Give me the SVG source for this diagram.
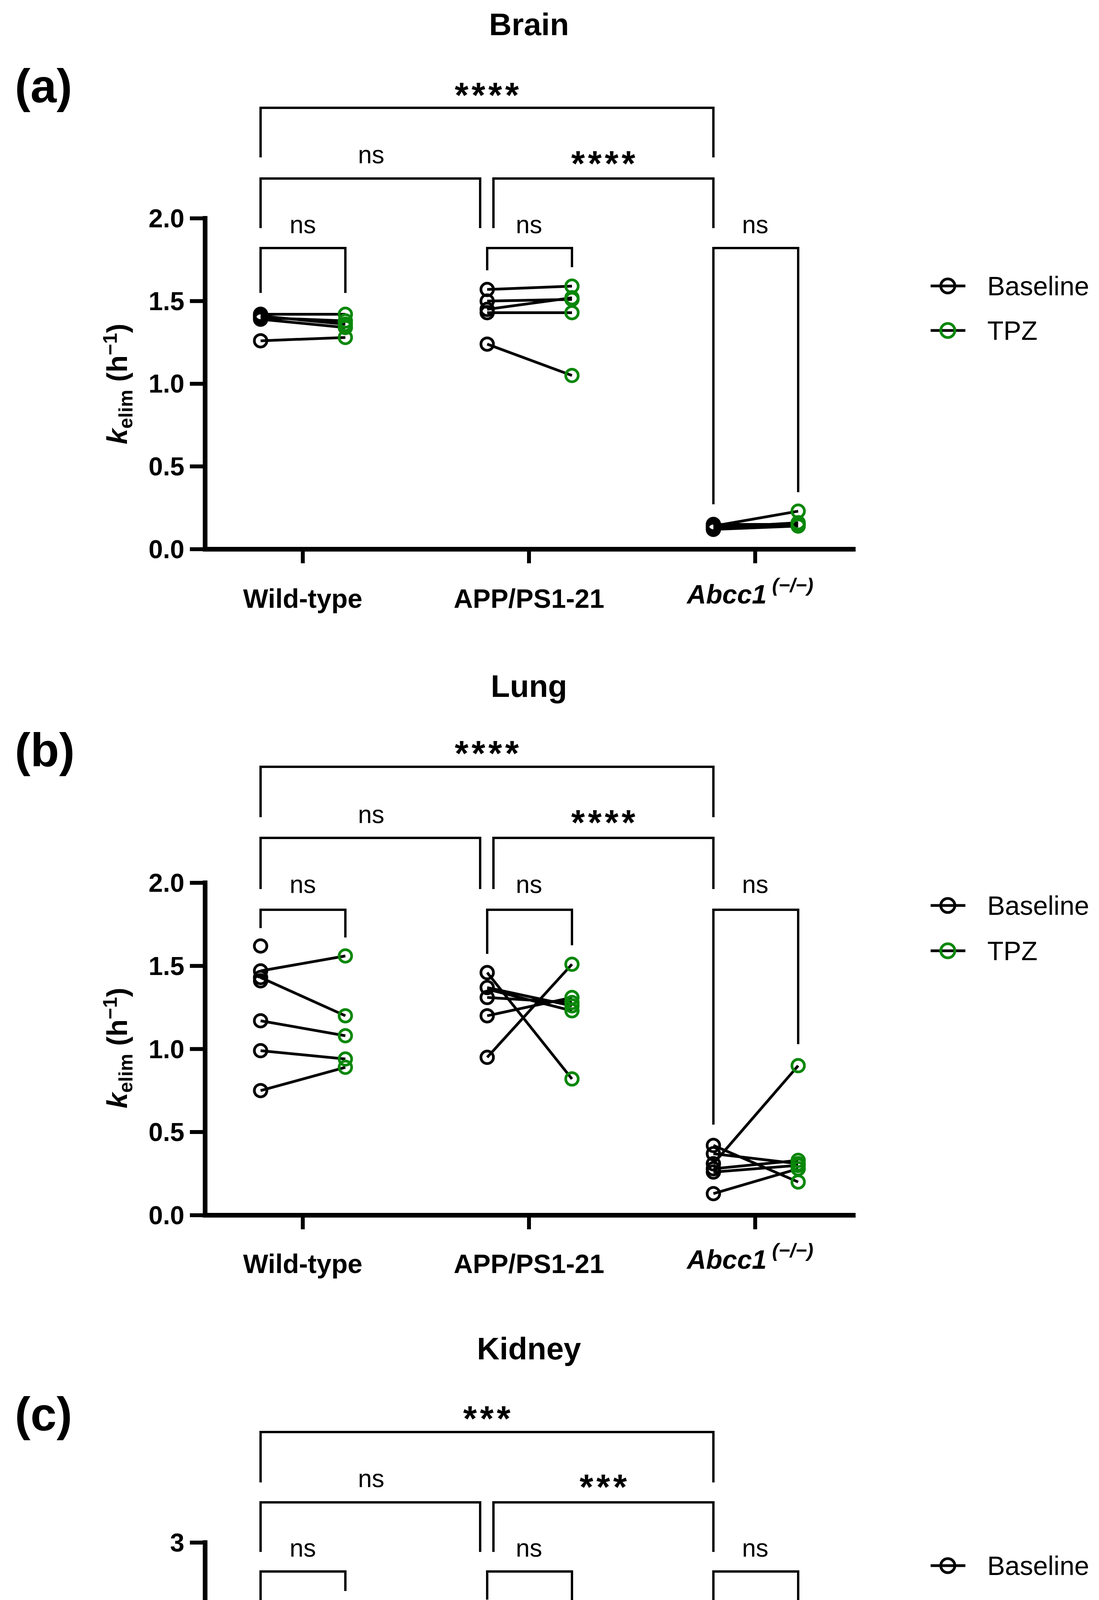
<svg xmlns="http://www.w3.org/2000/svg" width="2813" height="4996" viewBox="0 0 2813 4996">
<style>
text{font-family:"Liberation Sans",Arial,sans-serif;fill:#000}
.b{font-weight:bold}
.tl{font-size:66px;font-weight:bold;text-anchor:end}
.cat{font-size:68px;font-weight:bold;text-anchor:middle}
.ttl{font-size:80px;font-weight:bold;text-anchor:middle}
.pl{font-size:120px;font-weight:bold}
.ns{font-size:64px;text-anchor:middle}
.st{font-size:90px;font-weight:bold;text-anchor:middle;letter-spacing:8px}
.lg{font-size:68px}
.ax{stroke:#000;stroke-width:12;fill:none}
.tk{stroke:#000;stroke-width:10}
.br{stroke:#000;stroke-width:6;fill:none}
.dl{stroke:#000;stroke-width:7}
.cb{fill:none;stroke:#000;stroke-width:7}
.cg{fill:none;stroke:#0a870a;stroke-width:7}
</style>
<rect width="2813" height="4996" fill="#fff"/>

<!-- Panel a -->
<g id="panel-a">
<text class="pl" x="38" y="262">(a)</text>
<text class="ttl" x="1354" y="90">Brain</text>
<path class="ax" d="M525 553V1406H2190"/>
<path class="tk" d="M486 559H525M486 770.75H525M486 982.5H525M486 1194H525M486 1406H525M775 1406V1442M1354 1406V1442M1933 1406V1442"/>
<text class="tl" x="472" y="582">2.0</text><text class="tl" x="472" y="794">1.5</text><text class="tl" x="472" y="1005">1.0</text><text class="tl" x="472" y="1217">0.5</text><text class="tl" x="472" y="1429">0.0</text>
<text class="b" font-size="72" text-anchor="middle" transform="translate(325,983) rotate(-90)"><tspan font-style="italic">k</tspan><tspan font-size="50" dy="14">elim</tspan><tspan dy="-14"> (h</tspan><tspan font-size="50" dy="-26">−1</tspan><tspan dy="26">)</tspan></text>
<text class="cat" x="775" y="1556">Wild-type</text><text class="cat" x="1354" y="1556">APP/PS1-21</text>
<text class="cat" x="1920" y="1545" font-style="italic">Abcc1<tspan font-size="50" dy="-30"> (−/−)</tspan></text>
<path class="br" d="M667 403V276H1826V403M667 584V457H1229V584M1263 584V457H1826V584M667 750V635H884V750M1247 692V635H1464V684M1826 1291V635H2043V1260"/>
<text class="st" x="1250" y="275">****</text><text class="ns" x="950" y="418">ns</text><text class="st" x="1548" y="450">****</text>
<text class="ns" x="775" y="597">ns</text><text class="ns" x="1354" y="597">ns</text><text class="ns" x="1933" y="597">ns</text>
<path class="dl" d="M667 804.6L884 804.6M667 813.1L884 821.6M667 817.3L884 838.5M667 872.4L884 863.9M667 808.9L884 830M1247 741.1L1464 732.6M1247 791.9L1464 762.3M1247 770.8L1464 766.5M1247 800.4L1464 800.4M1247 880.9L1464 961.3M1826 1346.7L2043 1308.6M1826 1350.9L2043 1338.2M1826 1355.2L2043 1346.7M1826 1342.5L2043 1342.5"/>
<g class="cb"><circle cx="667" cy="804.6" r="16"/><circle cx="667" cy="813.1" r="16"/><circle cx="667" cy="817.3" r="16"/><circle cx="667" cy="872.4" r="16"/><circle cx="667" cy="808.9" r="16"/><circle cx="1247" cy="741.1" r="16"/><circle cx="1247" cy="791.9" r="16"/><circle cx="1247" cy="770.8" r="16"/><circle cx="1247" cy="800.4" r="16"/><circle cx="1247" cy="880.9" r="16"/><circle cx="1826" cy="1346.7" r="16"/><circle cx="1826" cy="1350.9" r="16"/><circle cx="1826" cy="1355.2" r="16"/><circle cx="1826" cy="1342.5" r="16"/></g>
<g class="cg"><circle cx="884" cy="804.6" r="16"/><circle cx="884" cy="821.6" r="16"/><circle cx="884" cy="838.5" r="16"/><circle cx="884" cy="863.9" r="16"/><circle cx="884" cy="830" r="16"/><circle cx="1464" cy="732.6" r="16"/><circle cx="1464" cy="762.3" r="16"/><circle cx="1464" cy="766.5" r="16"/><circle cx="1464" cy="800.4" r="16"/><circle cx="1464" cy="961.3" r="16"/><circle cx="2043" cy="1308.6" r="16"/><circle cx="2043" cy="1338.2" r="16"/><circle cx="2043" cy="1346.7" r="16"/><circle cx="2043" cy="1342.5" r="16"/></g>
<g id="legend-a"><path class="dl" d="M2382 732H2471M2382 846H2471"/><circle class="cb" cx="2426" cy="732" r="18"/><circle class="cg" cx="2426" cy="846" r="18"/><text class="lg" x="2527" y="756">Baseline</text><text class="lg" x="2527" y="870">TPZ</text></g>
</g>

<!-- Panel b -->
<g id="panel-b">
<text class="pl" x="38" y="1962">(b)</text>
<text class="ttl" x="1354" y="1784">Lung</text>
<path class="ax" d="M525 2254V3111H2190"/>
<path class="tk" d="M486 2260H525M486 2472.75H525M486 2685.5H525M486 2898H525M486 3111H525M775 3111V3147M1354 3111V3147M1933 3111V3147"/>
<text class="tl" x="472" y="2283">2.0</text><text class="tl" x="472" y="2496">1.5</text><text class="tl" x="472" y="2709">1.0</text><text class="tl" x="472" y="2921">0.5</text><text class="tl" x="472" y="3134">0.0</text>
<text class="b" font-size="72" text-anchor="middle" transform="translate(325,2683) rotate(-90)"><tspan font-style="italic">k</tspan><tspan font-size="50" dy="14">elim</tspan><tspan dy="-14"> (h</tspan><tspan font-size="50" dy="-26">−1</tspan><tspan dy="26">)</tspan></text>
<text class="cat" x="775" y="3259">Wild-type</text><text class="cat" x="1354" y="3259">APP/PS1-21</text>
<text class="cat" x="1920" y="3248" font-style="italic">Abcc1<tspan font-size="50" dy="-30"> (−/−)</tspan></text>
<path class="br" d="M667 2092V1963H1826V2092M667 2276V2145H1229V2276M1263 2276V2145H1826V2276M667 2376V2329H884V2400M1247 2442V2329H1464V2420M1826 2879V2329H2043V2673"/>
<text class="st" x="1250" y="1960">****</text><text class="ns" x="950" y="2107">ns</text><text class="st" x="1548" y="2137">****</text>
<text class="ns" x="775" y="2286">ns</text><text class="ns" x="1354" y="2286">ns</text><text class="ns" x="1933" y="2286">ns</text>
<path class="dl" d="M667 2485.5L884 2447.2M667 2502.5L884 2600.4M667 2613.2L884 2651.5M667 2689.8L884 2711M667 2791.9L884 2732.3M1247 2489.8L1464 2762.1M1247 2706.8L1464 2468.5M1247 2528.1L1464 2574.9M1247 2553.6L1464 2566.4M1247 2600.4L1464 2553.6M1247 2532.3L1464 2587.6M1826 2979.1L2043 2728.1M1826 2932.3L2043 3025.9M1826 2953.6L2043 2979.1M1826 2991.9L2043 2970.6M1826 3000.4L2043 2983.4M1826 3055.7L2043 2991.9"/>
<g class="cb"><circle cx="667" cy="2421.7" r="16"/><circle cx="667" cy="2485.5" r="16"/><circle cx="667" cy="2502.5" r="16"/><circle cx="667" cy="2511" r="16"/><circle cx="667" cy="2613.2" r="16"/><circle cx="667" cy="2689.8" r="16"/><circle cx="667" cy="2791.9" r="16"/><circle cx="1247" cy="2489.8" r="16"/><circle cx="1247" cy="2706.8" r="16"/><circle cx="1247" cy="2528.1" r="16"/><circle cx="1247" cy="2553.6" r="16"/><circle cx="1247" cy="2600.4" r="16"/><circle cx="1826" cy="2979.1" r="16"/><circle cx="1826" cy="2932.3" r="16"/><circle cx="1826" cy="2953.6" r="16"/><circle cx="1826" cy="2991.9" r="16"/><circle cx="1826" cy="3000.4" r="16"/><circle cx="1826" cy="3055.7" r="16"/></g>
<g class="cg"><circle cx="884" cy="2447.2" r="16"/><circle cx="884" cy="2600.4" r="16"/><circle cx="884" cy="2651.5" r="16"/><circle cx="884" cy="2711" r="16"/><circle cx="884" cy="2732.3" r="16"/><circle cx="1464" cy="2762.1" r="16"/><circle cx="1464" cy="2468.5" r="16"/><circle cx="1464" cy="2574.9" r="16"/><circle cx="1464" cy="2566.4" r="16"/><circle cx="1464" cy="2553.6" r="16"/><circle cx="1464" cy="2587.6" r="16"/><circle cx="2043" cy="2728.1" r="16"/><circle cx="2043" cy="3025.9" r="16"/><circle cx="2043" cy="2979.1" r="16"/><circle cx="2043" cy="2970.6" r="16"/><circle cx="2043" cy="2983.4" r="16"/><circle cx="2043" cy="2991.9" r="16"/></g>
<g id="legend-b"><path class="dl" d="M2382 2318H2471M2382 2434H2471"/><circle class="cb" cx="2426" cy="2318" r="18"/><circle class="cg" cx="2426" cy="2434" r="18"/><text class="lg" x="2527" y="2342">Baseline</text><text class="lg" x="2527" y="2458">TPZ</text></g>
</g>

<!-- Panel c -->
<g id="panel-c">
<text class="pl" x="38" y="3662">(c)</text>
<text class="ttl" x="1354" y="3480">Kidney</text>
<path class="dl" stroke-width="5" stroke-dasharray="4 11" d="M531 4585H2190"/>
<path class="ax" d="M525 3943V4798H2190"/>
<path class="tk" d="M486 3949H525M486 4161H525M486 4373H525M486 4585H525M486 4798H525M775 4798V4834M1354 4798V4834M1933 4798V4834"/>
<text class="tl" x="472" y="3972">3</text><text class="tl" x="472" y="4184">2</text><text class="tl" x="472" y="4396">1</text><text class="tl" x="472" y="4608">0</text><text class="tl" x="472" y="4821">-1</text>
<text class="b" font-size="72" text-anchor="middle" transform="translate(349,4370) rotate(-90)"><tspan font-style="italic">k</tspan><tspan font-size="50" dy="14">elim</tspan><tspan dy="-14"> (h</tspan><tspan font-size="50" dy="-26">−1</tspan><tspan dy="26">)</tspan></text>
<text class="cat" x="775" y="4947">Wild-type</text><text class="cat" x="1354" y="4947">APP/PS1-21</text>
<text class="cat" x="1920" y="4936" font-style="italic">Abcc1<tspan font-size="50" dy="-30"> (−/−)</tspan></text>
<path class="br" d="M667 3795V3666H1826V3795M667 3973V3846H1229V3973M1263 3973V3846H1826V3973M667 4124V4023H884V4073M1247 4095V4023H1464V4133M1826 4349V4023H2043V4284"/>
<text class="st" x="1250" y="3663">***</text><text class="ns" x="950" y="3807">ns</text><text class="st" x="1548" y="3838">***</text>
<text class="ns" x="775" y="3985">ns</text><text class="ns" x="1354" y="3985">ns</text><text class="ns" x="1933" y="3985">ns</text>
<path class="dl" d="M667 4175.3L884 4222M667 4181.6L884 4215.6M667 4232.6L884 4192.2M667 4264.4L884 4124.3M667 4302.6L884 4283.5M667 4376.9L884 4268.7M667 4277.2L884 4289.9M1247 4147.7L1464 4177.4M1247 4151.9L1464 4194.4M1247 4281.4L1464 4279.3M1247 4336.6L1464 4317.5M1247 4357.8L1464 4321.7M1826 4402.4L2043 4336.6M1826 4457.6L2043 4451.3M1826 4468.2L2043 4461.9M1826 4485.2L2043 4447M1826 4500.1L2043 4457.6M1826 4706L2043 4548.9M1826 4478.9L2043 4495.8"/>
<g class="cb"><circle cx="667" cy="4175.3" r="16"/><circle cx="667" cy="4181.6" r="16"/><circle cx="667" cy="4232.6" r="16"/><circle cx="667" cy="4264.4" r="16"/><circle cx="667" cy="4302.6" r="16"/><circle cx="667" cy="4376.9" r="16"/><circle cx="667" cy="4277.2" r="16"/><circle cx="1247" cy="4147.7" r="16"/><circle cx="1247" cy="4151.9" r="16"/><circle cx="1247" cy="4281.4" r="16"/><circle cx="1247" cy="4336.6" r="16"/><circle cx="1247" cy="4357.8" r="16"/><circle cx="1826" cy="4402.4" r="16"/><circle cx="1826" cy="4457.6" r="16"/><circle cx="1826" cy="4468.2" r="16"/><circle cx="1826" cy="4485.2" r="16"/><circle cx="1826" cy="4500.1" r="16"/><circle cx="1826" cy="4706" r="16"/><circle cx="1826" cy="4478.9" r="16"/></g>
<g class="cg"><circle cx="884" cy="4222" r="16"/><circle cx="884" cy="4215.6" r="16"/><circle cx="884" cy="4192.2" r="16"/><circle cx="884" cy="4124.3" r="16"/><circle cx="884" cy="4283.5" r="16"/><circle cx="884" cy="4268.7" r="16"/><circle cx="884" cy="4289.9" r="16"/><circle cx="1464" cy="4177.4" r="16"/><circle cx="1464" cy="4194.4" r="16"/><circle cx="1464" cy="4279.3" r="16"/><circle cx="1464" cy="4317.5" r="16"/><circle cx="1464" cy="4321.7" r="16"/><circle cx="2043" cy="4336.6" r="16"/><circle cx="2043" cy="4451.3" r="16"/><circle cx="2043" cy="4461.9" r="16"/><circle cx="2043" cy="4447" r="16"/><circle cx="2043" cy="4457.6" r="16"/><circle cx="2043" cy="4548.9" r="16"/><circle cx="2043" cy="4495.8" r="16"/></g>
<g id="legend-c"><path class="dl" d="M2382 4008H2471M2382 4122H2471"/><circle class="cb" cx="2426" cy="4008" r="18"/><circle class="cg" cx="2426" cy="4122" r="18"/><text class="lg" x="2527" y="4032">Baseline</text><text class="lg" x="2527" y="4146">TPZ</text></g>
</g>
</svg>
